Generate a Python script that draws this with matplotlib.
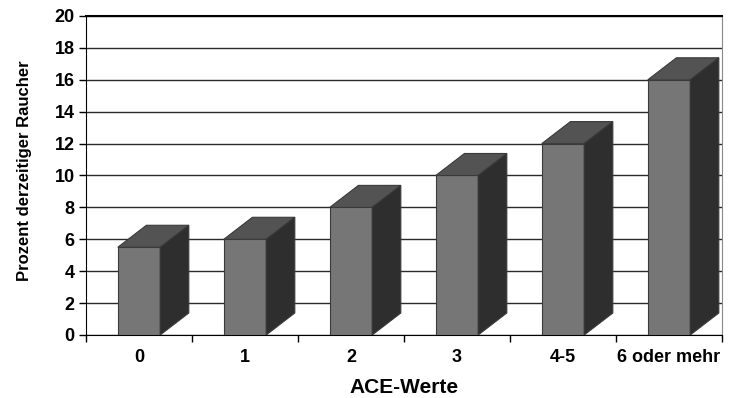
import matplotlib.pyplot as plt
from matplotlib.patches import Polygon
import numpy as np

plt.rcParams['font.family'] = ['Liberation Sans', 'DejaVu Sans']

categories = ['0', '1', '2', '3', '4-5', '6 oder mehr']
values = [5.5, 6, 8, 10, 12, 16]
yticks = [0, 2, 4, 6, 8, 10, 12, 14, 16, 18, 20]

fig = plt.figure(figsize=(7.33, 3.98), dpi=100)
ax = fig.add_axes([0.1173, 0.1583, 0.8677, 0.8015])

w = 0.2      # half width of front face
dx = 0.27    # depth in x (category units)
dy = 1.38    # depth in y (data units)

for i, v in enumerate(values):
    x0, x1 = i - w, i + w
    front = Polygon([(x0, 0), (x1, 0), (x1, v), (x0, v)],
                    facecolor='#767676', edgecolor='#3a3a3a', lw=0.8, zorder=3)
    top = Polygon([(x0, v), (x1, v), (x1 + dx, v + dy), (x0 + dx, v + dy)],
                  facecolor='#535353', edgecolor='#3a3a3a', lw=0.8, zorder=3)
    side = Polygon([(x1, 0), (x1 + dx, dy), (x1 + dx, v + dy), (x1, v)],
                   facecolor='#2e2e2e', edgecolor='#3a3a3a', lw=0.8, zorder=3)
    for p in (front, top, side):
        ax.add_patch(p)

ax.set_xlim(-0.5, 5.5)
ax.set_ylim(0, 20)
ax.set_yticks(yticks)
ax.set_yticklabels([str(t) for t in yticks], fontsize=13, fontweight='bold')
ax.set_xticks(np.arange(len(categories)))
ax.set_xticklabels(categories, fontsize=13, fontweight='bold')
ax.tick_params(axis='x', length=0, pad=10)
ax.tick_params(axis='y', length=5, width=1, direction='out', pad=3)

# category separator ticks on the x axis
ax.set_xticks(np.arange(-0.5, 6, 1), minor=True)
ax.tick_params(axis='x', which='minor', length=5, width=1, direction='out')

ax.yaxis.grid(True, color='#2a2a2a', lw=1.0, zorder=0)
ax.set_axisbelow(True)

ax.spines['left'].set_color('black')
ax.spines['bottom'].set_color('black')
ax.spines['top'].set_color('black')
ax.spines['top'].set_linewidth(1.5)
ax.spines['right'].set_color('#888888')

ax.set_xlabel('ACE-Werte', fontsize=15, fontweight='bold')
ax.xaxis.set_label_coords(0.5, -0.135)
ax.set_ylabel('Prozent derzeitiger Raucher', fontsize=12, fontweight='bold')
ax.yaxis.set_label_coords(-0.085, 0.515)

fig.savefig('out.png', dpi=100)
